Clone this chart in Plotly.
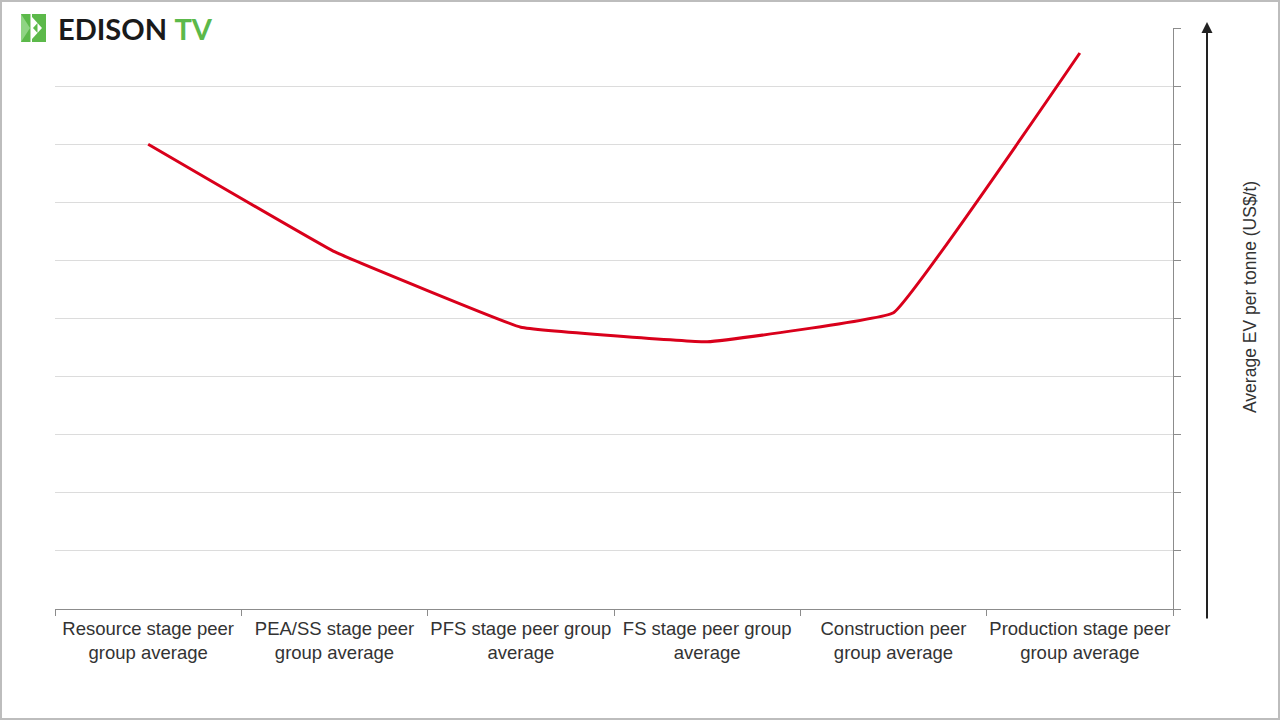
import plotly.graph_objects as go

categories = [
    "Resource stage peer<br>group average",
    "PEA/SS stage peer<br>group average",
    "PFS stage peer group<br>average",
    "FS stage peer group<br>average",
    "Construction peer<br>group average",
    "Production stage peer<br>group average",
]
ev_per_tonne = [8.0, 6.15, 4.85, 4.6, 5.1, 9.57]
y_ticks = list(range(0, 11))

W, H = 1280, 720
L, R, T, B = 55, 107, 28, 111
pw, ph = W - L - R, H - T - B


def px(x):
    return (x - L) / pw


def py(y):
    return (H - B - y) / ph


fig = go.Figure()
fig.add_trace(go.Scatter(
    x=categories, y=ev_per_tonne, mode="lines",
    line=dict(color="#d9001b", width=3, shape="spline", smoothing=0.2),
    hoverinfo="skip", showlegend=False,
))

fig.update_layout(
    width=W, height=H,
    margin=dict(l=L, r=R, t=T, b=B, autoexpand=False),
    paper_bgcolor="white", plot_bgcolor="white",
    font=dict(family="Liberation Sans, Arial, sans-serif", color="#333333"),
    xaxis=dict(
        type="category", tickson="boundaries", ticks="outside", ticklen=6,
        tickcolor="#8c8c8c", showline=True, linecolor="#8c8c8c", linewidth=1,
        showgrid=False, tickfont=dict(size=18.5, color="#333333"),
        tickangle=0, automargin=False, ticklabelstandoff=3,
        range=[-0.5, 5.5],
    ),
    yaxis=dict(
        side="right", range=[0, 10], tickvals=y_ticks, showticklabels=False,
        ticks="outside", ticklen=7, tickcolor="#8c8c8c",
        showline=True, linecolor="#8c8c8c", linewidth=1, automargin=False,
        showgrid=True, gridcolor="#dcdcdc", gridwidth=1, zeroline=False,
    ),
)

# vertical arrow on the right
fig.add_annotation(
    xref="paper", yref="paper", x=px(1207), y=py(22),
    ax=0, ay=598, axref="pixel", ayref="pixel",
    showarrow=True, arrowhead=2, arrowsize=1.1, arrowwidth=2,
    arrowcolor="#222222", text="",
)
# y title
fig.add_annotation(
    xref="paper", yref="paper", x=px(1250), y=py(297),
    text="Average EV per tonne (US$/t)", textangle=-90, showarrow=False,
    font=dict(size=17.5, color="#333333"), xanchor="center", yanchor="middle",
)

# Logo
green = "#5cb94a"
light = "#8fd483"
fig.add_shape(type="rect", xref="paper", yref="paper",
              x0=px(21), x1=px(46), y0=py(42), y1=py(14),
              fillcolor=green, line=dict(width=0), layer="above")
fig.add_shape(type="path", xref="paper", yref="paper",
              path=f"M {px(21)},{py(14)} L {px(30)},{py(28)} L {px(21)},{py(42)} Z",
              fillcolor=light, line=dict(width=0), layer="above")
fig.add_shape(type="rect", xref="paper", yref="paper",
              x0=px(30.5), x1=px(32), y0=py(42), y1=py(14),
              fillcolor="white", line=dict(width=0), layer="above")
fig.add_shape(type="path", xref="paper", yref="paper",
              path=f"M {px(32)},{py(17)} L {px(42)},{py(28)} L {px(32)},{py(39)} Z",
              fillcolor="white", line=dict(width=0), layer="above")
fig.add_shape(type="path", xref="paper", yref="paper",
              path=f"M {px(37.5)},{py(23)} L {px(33)},{py(28)} L {px(37.5)},{py(33)} Z",
              fillcolor=green, line=dict(width=0), layer="above")
fig.add_annotation(
    xref="paper", yref="paper", x=px(56), y=py(28.5),
    text="<b>EDISON</b> <b><span style='color:#5cb94a'>TV</span></b>",
    showarrow=False, xanchor="left", yanchor="middle",
    font=dict(family="Lato, Open Sans, sans-serif", size=29, color="#1a1a1a"),
)

# frame
fig.add_shape(type="rect", xref="paper", yref="paper",
              x0=px(1), x1=px(1279), y0=py(719), y1=py(1),
              line=dict(color="#bdbdbd", width=2), fillcolor="rgba(0,0,0,0)",
              layer="above")

fig.write_html(
    "out.html",
    config={"displayModeBar": False},
    post_script="document.body.style.margin='0';document.body.style.overflow='hidden';",
)
